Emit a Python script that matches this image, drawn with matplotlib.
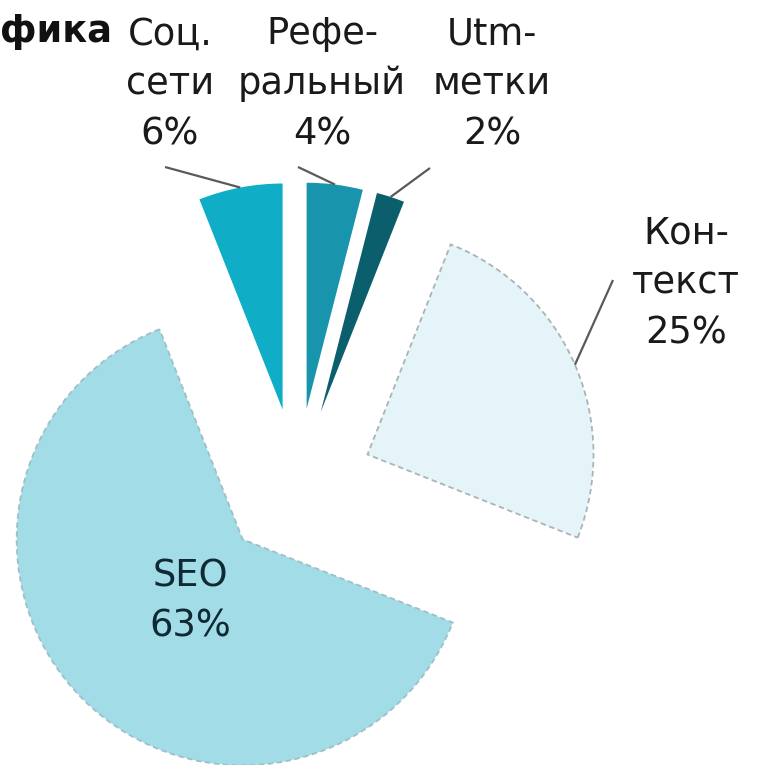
import numpy as np
import matplotlib
matplotlib.use('Agg')
import matplotlib.pyplot as plt

# traffic sources, clockwise from 12 o'clock
labels = ['Рефе-\nральный', 'Utm-\nметки', 'Кон-\nтекст', 'SEO', 'Соц.\nсети']
shares = [4, 2, 25, 63, 6]
colors = ['#1895ad', '#0b5e6c', '#e5f4f9', '#a2dce7', '#10aec6']
edges = ['none', 'none', '#a9b4b8', '#9fbfc7', 'none']

W, H = 759, 765
SCALE = 226.0          # px per unit radius
CX, CY = 297, 485      # pie centre in px

def px(x, y):
    # pixel position -> data coords
    return (x - CX) / SCALE, (CY - y) / SCALE

fig = plt.figure(figsize=(W / 100, H / 100), dpi=100)
ax = fig.add_axes([0, 0, 1, 1])

explode = [0.34] * len(shares)
wedges, _ = ax.pie(shares, colors=colors, explode=explode, startangle=90,
                   counterclock=False, radius=1.0, center=(0, 0))
for w, ec in zip(wedges, edges):
    if ec != 'none':
        w.set_edgecolor(ec)
        w.set_linewidth(1.3)
        w.set_linestyle((0, (3, 2)))

# pie() resets limits, so set them afterwards
ax.set_xlim(px(0, 0)[0], px(W, 0)[0])
ax.set_ylim(px(0, H)[1], px(0, 0)[1])
ax.set_aspect('equal')
ax.axis('off')

fs = 26.5
# label text positions (px)
lab_pos = [(322, 84), (492, 84), (686, 283), (190, 601), (170, 84)]
# leader line starting points near the text (px), None = label inside
lead_start = [(298, 167), (430, 168), (613, 280), None, (165, 167)]

for i, w in enumerate(wedges):
    txt = '%s\n%d%%' % (labels[i], shares[i])
    x, y = px(*lab_pos[i])
    ax.text(x, y, txt, ha='center', va='center', fontsize=fs,
            color='#1a1a1a' if i != 3 else '#0f2a33', linespacing=1.45,
            family='DejaVu Sans')
    if lead_start[i] is not None:
        mid = np.deg2rad((w.theta1 + w.theta2) / 2)
        ex = w.center[0] + w.r * np.cos(mid)
        ey = w.center[1] + w.r * np.sin(mid)
        sx, sy = px(*lead_start[i])
        ax.plot([sx, ex], [sy, ey], color='#5a5a5a', lw=1.6, solid_capstyle='butt')

# cut-off chart title
x, y = px(0, 31)
ax.text(x, y, 'фика', ha='left', va='center', fontsize=fs, fontweight='bold',
        color='#111111', family='DejaVu Sans')

fig.savefig('out.png', dpi=100)
